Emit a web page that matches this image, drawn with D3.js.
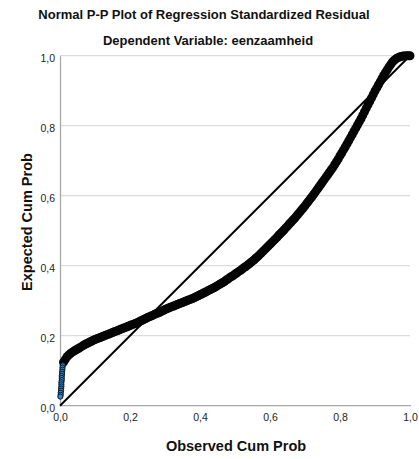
<!DOCTYPE html>
<html>
<head>
<meta charset="utf-8">
<script src="https://cdn.jsdelivr.net/npm/d3@7/dist/d3.min.js"></script>
<style>
  html, body { margin: 0; padding: 0; background: #fff; }
  svg { display: block; }
  text { font-family: "Liberation Sans", Arial, sans-serif; }
</style>
</head>
<body>
<div id="chart"></div>
<script>
const title = "Normal P-P Plot of Regression Standardized Residual";
const subtitle = "Dependent Variable: eenzaamheid";
const xTitle = "Observed Cum Prob";
const yTitle = "Expected Cum Prob";
const tickValues = [0, 0.2, 0.4, 0.6, 0.8, 1.0];
const tickLabels = ["0,0", "0,2", "0,4", "0,6", "0,8", "1,0"];

// Observed cumulative probability (x) and expected cumulative probability (y)
const observed = [
  0.001, 0.002, 0.002, 0.003, 0.003, 0.004, 0.004, 0.004, 0.005, 0.005, 0.005, 0.006, 0.006, 0.007, 0.007, 0.008,
  0.010, 0.015, 0.020, 0.025, 0.030, 0.035, 0.040, 0.045, 0.050, 0.055, 0.060, 0.065, 0.070, 0.075, 0.080, 0.085, 0.090, 0.095,
  0.100, 0.105, 0.110, 0.115, 0.120, 0.125, 0.130, 0.135, 0.140, 0.145, 0.150, 0.155, 0.160, 0.165, 0.170, 0.175, 0.180, 0.185, 0.190, 0.195,
  0.200, 0.205, 0.210, 0.215, 0.220, 0.225, 0.230, 0.235, 0.240, 0.245, 0.250, 0.255, 0.260, 0.265, 0.270, 0.275, 0.280, 0.285, 0.290, 0.295,
  0.300, 0.305, 0.310, 0.315, 0.320, 0.325, 0.330, 0.335, 0.340, 0.345, 0.350, 0.355, 0.360, 0.365, 0.370, 0.375, 0.380, 0.385, 0.390, 0.395,
  0.400, 0.405, 0.410, 0.415, 0.420, 0.425, 0.430, 0.435, 0.440, 0.445, 0.450, 0.455, 0.460, 0.465, 0.470, 0.475, 0.480, 0.485, 0.490, 0.495,
  0.500, 0.505, 0.510, 0.515, 0.520, 0.525, 0.530, 0.535, 0.540, 0.545, 0.550, 0.555, 0.560, 0.565, 0.570, 0.575, 0.580, 0.585, 0.590, 0.595,
  0.600, 0.605, 0.610, 0.615, 0.620, 0.625, 0.630, 0.635, 0.640, 0.645, 0.650, 0.655, 0.660, 0.665, 0.670, 0.675, 0.680, 0.685, 0.690, 0.695,
  0.700, 0.705, 0.710, 0.715, 0.720, 0.725, 0.730, 0.735, 0.740, 0.745, 0.750, 0.755, 0.760, 0.765, 0.770, 0.775, 0.780, 0.785, 0.790, 0.795,
  0.800, 0.805, 0.810, 0.815, 0.820, 0.825, 0.830, 0.835, 0.840, 0.845, 0.850, 0.855, 0.860, 0.865, 0.870, 0.875, 0.880, 0.885, 0.890, 0.895,
  0.900, 0.905, 0.910, 0.915, 0.920, 0.925, 0.930, 0.935, 0.940, 0.945, 0.950, 0.955, 0.960, 0.965, 0.970, 0.975, 0.980, 0.985, 0.990, 0.995, 1.000
];
const expected = [
  0.026, 0.031, 0.037, 0.043, 0.049, 0.055, 0.061, 0.067, 0.073, 0.079, 0.085, 0.091, 0.097, 0.103, 0.109, 0.115,
  0.124, 0.132, 0.140, 0.145, 0.149, 0.153, 0.156, 0.159, 0.162, 0.165, 0.168, 0.171, 0.174, 0.177, 0.179, 0.182, 0.184, 0.187,
  0.189, 0.191, 0.193, 0.195, 0.197, 0.199, 0.201, 0.203, 0.205, 0.207, 0.209, 0.211, 0.213, 0.215, 0.217, 0.219, 0.221, 0.223, 0.225, 0.227,
  0.229, 0.231, 0.233, 0.235, 0.237, 0.239, 0.242, 0.244, 0.247, 0.249, 0.252, 0.254, 0.256, 0.258, 0.261, 0.263, 0.265, 0.267, 0.270, 0.272,
  0.275, 0.277, 0.279, 0.281, 0.283, 0.285, 0.287, 0.289, 0.291, 0.293, 0.295, 0.297, 0.299, 0.301, 0.303, 0.305, 0.307, 0.309, 0.312, 0.314,
  0.317, 0.319, 0.322, 0.324, 0.327, 0.330, 0.332, 0.335, 0.337, 0.340, 0.343, 0.346, 0.349, 0.352, 0.355, 0.359, 0.362, 0.366, 0.369, 0.372,
  0.376, 0.379, 0.383, 0.386, 0.390, 0.394, 0.397, 0.401, 0.405, 0.409, 0.413, 0.417, 0.422, 0.426, 0.431, 0.436, 0.441, 0.446, 0.451, 0.456,
  0.461, 0.466, 0.471, 0.476, 0.481, 0.487, 0.492, 0.497, 0.502, 0.508, 0.513, 0.519, 0.524, 0.530, 0.535, 0.541, 0.547, 0.553, 0.559, 0.565,
  0.571, 0.578, 0.584, 0.591, 0.597, 0.604, 0.611, 0.618, 0.625, 0.632, 0.639, 0.646, 0.653, 0.660, 0.667, 0.674, 0.681, 0.689, 0.697, 0.705,
  0.714, 0.722, 0.731, 0.739, 0.748, 0.757, 0.766, 0.775, 0.784, 0.793, 0.802, 0.811, 0.820, 0.830, 0.840, 0.850, 0.860, 0.869, 0.879, 0.889,
  0.899, 0.908, 0.917, 0.926, 0.935, 0.944, 0.952, 0.960, 0.968, 0.975, 0.982, 0.987, 0.991, 0.994, 0.996, 0.998, 0.999, 0.999, 1.000, 1.000, 1.000
];

const W = 419, H = 459;
const svg = d3.select("#chart").append("svg").attr("width", W).attr("height", H);

const x = d3.scaleLinear().domain([0, 1]).range([60, 410]);
const y = d3.scaleLinear().domain([0, 1]).range([405.7, 55.7]);

// Titles
svg.append("text").attr("x", 204).attr("y", 19).attr("text-anchor", "middle")
  .attr("font-size", 13).attr("font-weight", "bold").attr("fill", "#111").text(title);
svg.append("text").attr("x", 208).attr("y", 45).attr("text-anchor", "middle")
  .attr("font-size", 13).attr("font-weight", "bold").attr("fill", "#111").text(subtitle);

// Gridlines
svg.append("g").selectAll("line").data(tickValues.slice(1)).join("line")
  .attr("x1", x(0)).attr("x2", x(1)).attr("y1", d => y(d)).attr("y2", d => y(d))
  .attr("stroke", "#d4d4d4").attr("stroke-width", 1);

// Axes
const xAxis = d3.axisBottom(x).tickValues(tickValues).tickFormat((d, i) => tickLabels[i]).tickSize(0).tickPadding(8);
const yAxis = d3.axisLeft(y).tickValues(tickValues).tickFormat((d, i) => tickLabels[i]).tickSize(0).tickPadding(5);

const gx = svg.append("g").attr("transform", `translate(0,${y(0)})`).call(xAxis);
const gy = svg.append("g").attr("transform", `translate(${x(0)},0)`).call(yAxis);
[gx, gy].forEach(g => {
  g.select(".domain").attr("stroke", "#a8a8a8").attr("stroke-width", 1.3);
  g.selectAll("text").attr("font-size", 10.5).attr("fill", "#222")
    .attr("font-family", "'Liberation Sans', Arial, sans-serif");
});
gy.selectAll("text").attr("dy", "0.55em");
gx.select(".domain").attr("d", `M${x(0)},0H${x(1) + 1}`);

// Axis titles
svg.append("text").attr("x", 236).attr("y", 451).attr("text-anchor", "middle")
  .attr("font-size", 14.5).attr("font-weight", "bold").attr("fill", "#111").text(xTitle);
svg.append("text").attr("transform", "translate(32,222) rotate(-90)").attr("text-anchor", "middle")
  .attr("font-size", 14.5).attr("font-weight", "bold").attr("fill", "#111").text(yTitle);

// Reference diagonal
svg.append("line").attr("x1", x(0)).attr("y1", y(0)).attr("x2", x(1)).attr("y2", y(1))
  .attr("stroke", "#000").attr("stroke-width", 2);

// Points
const pts = observed.map((o, i) => ({ o, e: expected[i] }));
const sparse = pts.filter(d => d.o < 0.009);
const dense = pts.filter(d => d.o >= 0.009);
const gp = svg.append("g");
// dense markers: fills first, then heavy outlines on top (overlap reads as black)
gp.selectAll("circle.f").data(dense).join("circle").attr("class", "f")
  .attr("cx", d => x(d.o)).attr("cy", d => y(d.e)).attr("r", 3.0)
  .attr("fill", "#2a8ad6");
gp.selectAll("circle.s").data(dense).join("circle").attr("class", "s")
  .attr("cx", d => x(d.o)).attr("cy", d => y(d.e)).attr("r", 3.0)
  .attr("fill", "none").attr("stroke", "#050505").attr("stroke-width", 3.0);
// sparse markers along the left edge: drawn one by one
gp.selectAll("circle.p").data(sparse.slice().reverse()).join("circle").attr("class", "p")
  .attr("cx", d => x(d.o)).attr("cy", d => y(d.e)).attr("r", 2.6)
  .attr("fill", "#2a8ad6").attr("stroke", "#0a0a0a").attr("stroke-width", 0.9);
</script>
</body>
</html>
